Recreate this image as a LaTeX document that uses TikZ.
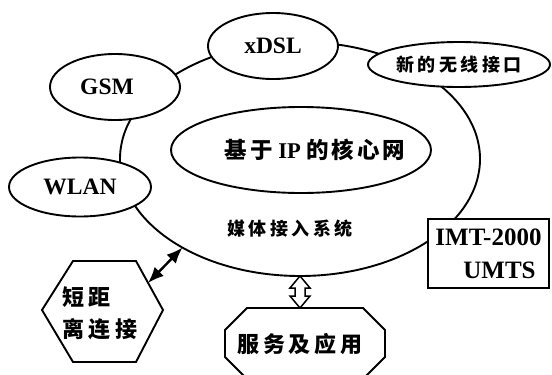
\documentclass[tikz,border=0pt]{standalone}
\usepackage{fontspec}
\setmainfont{Liberation Serif}
\newfontfamily\cjk{Noto Sans CJK SC}
\usetikzlibrary{shapes.geometric,arrows.meta,calc}
\newcommand\cjkb{\cjk\bfseries}
\begin{document}
\begin{tikzpicture}[x=1pt,y=-1pt,
  every node/.style={inner sep=0pt, outer sep=0pt},
  lw/.style={line width=1.9pt},
  oval/.style={ellipse, draw, fill=white, lw},
  lat/.style={font=\fontsize{23.5}{26}\selectfont\bfseries},
  cjkmid/.style={font=\fontsize{18}{22}\selectfont\cjkb},
  cjkbig/.style={font=\fontsize{22}{32}\selectfont\cjkb},
  outline/.style={draw, lw, line join=miter}]
\clip (0,0) rectangle (552,375);
% media access system (big ellipse)
\node[ellipse, draw, lw, minimum width=360pt, minimum height=234pt] (mas) at (300,159) {};
% core network
\node[oval, minimum width=260pt, minimum height=86pt, font=\fontsize{22.5}{26}\selectfont] (core) at (301,150)
  {\makebox[0pt]{\hspace*{28pt}{\cjkb 基\kern3pt 于} \textbf{IP} {\cjkb 的\kern3pt 核\kern3pt 心\kern3pt 网}}};
% access networks
\node[oval, lat, minimum width=130pt, minimum height=66pt] (gsm) at (115,87) {\makebox[0pt]{GSM\hspace*{16pt}}};
\node[oval, lat, minimum width=130pt, minimum height=66pt] (xdsl) at (273,46) {\makebox[0pt]{xDSL}};
\node[oval, cjkmid, minimum width=182pt, minimum height=45pt] (new) at (459,64.5)
  {\makebox[0pt]{新\kern3.5pt 的\kern3.5pt 无\kern3.5pt 线\kern3.5pt 接\kern3.5pt 口}};
\node[oval, lat, minimum width=142pt, minimum height=59pt] (wlan) at (80,187) {\makebox[0pt]{WLAN}};
\node[draw, fill=white, lw, minimum width=121pt, minimum height=69pt, align=center,
  font=\fontsize{25}{33}\selectfont\bfseries] (imt) at (488.5,253.5) {IMT-2000\\\hspace*{22pt}UMTS};
% label of the access system
\node[cjkmid] (mastext) at (290,229) {媒\kern3.5pt 体\kern3.5pt 接\kern3.5pt 入\kern3.5pt 系\kern3.5pt 统};
% short range hexagon
\node[cjkbig, align=left] (hex) at (100,313) {短\kern4.5pt 距\\离\kern4.5pt 连\kern4.5pt 接};
\draw[outline] (73,261) -- (136,261) -- (163,310) -- (136,362) -- (73,362) -- (42,310) -- cycle;
\coordinate (hexpt) at (148,283);
% services octagon
\draw[outline] (247,308) -- (363,308) -- (385,330) -- (385,357) -- (362,380)
  -- (248,380) -- (225,357) -- (225,330) -- cycle;
\node[cjkbig] (oct) at (300,344) {服\kern3.75pt 务\kern3.75pt 及\kern3.75pt 应\kern3.75pt 用};
\coordinate (octtop) at (300,308);
% connectors
\draw[line width=2.4pt, {Latex[length=16pt,width=13pt]}-{Latex[length=16pt,width=13pt]}] (hexpt) -- (mas.217);
\draw[line width=1.5pt, fill=white] (mas.south) -- ++(10,12) -- ++(-5,0) -- ($(octtop)+(5,-12)$)
  -- ++(5,0) -- (octtop) -- ++(-10,-12) -- ++(5,0) -- ($(mas.south)+(-5,12)$) -- ++(-5,0) -- cycle;
\end{tikzpicture}
\end{document}
